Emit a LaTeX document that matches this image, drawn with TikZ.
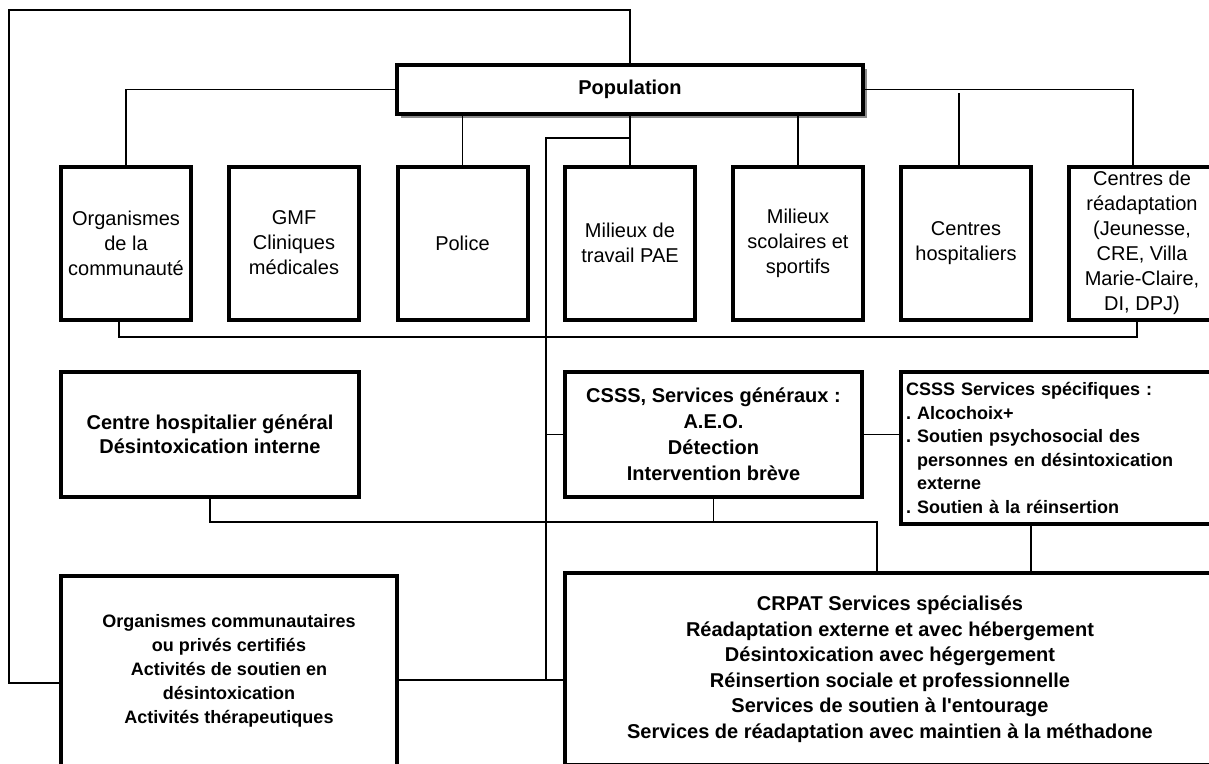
\documentclass[tikz,border=0pt]{standalone}
\usepackage{fontspec}
\setmainfont{Liberation Sans}
\usepackage{tikz}
\usetikzlibrary{positioning, shadows}
\frenchspacing

\begin{document}
\begin{tikzpicture}[
    x=1pt, y=-1pt,
    box/.style={draw, line width=4pt, align=center, inner sep=1pt},
    topbox/.style={box, minimum width=130pt, minimum height=153pt, font=\fontsize{20}{25}\selectfont},
    link/.style={line width=1.3pt}
]
    \useasboundingbox (0,0) rectangle (1209,763);

    \node[box, minimum width=466pt, minimum height=49pt, font=\fontsize{20}{25}\selectfont\bfseries,
          drop shadow={shadow xshift=4pt, shadow yshift=-4pt, fill=black!45, opacity=1}, fill=white] (pop) at (630,89.5) {Population};

    % Top row
    \node[topbox] (orgc) at (126,243) {Organismes\\de la\\communauté};
    \node[topbox] (gmf) at (294,243) {GMF\\Cliniques\\médicales};
    \node[topbox] (police) at (462.5,243) {Police};
    \node[topbox] (travail) at (630,243) {Milieux de\\travail PAE};
    \node[topbox] (scol) at (798,243) {Milieux\\scolaires et\\sportifs};
    \node[topbox] (hosp) at (966,243) {Centres\\hospitaliers};
    \node[topbox, minimum width=146pt] (readapt) at (1142,243) {Centres de\\réadaptation\\(Jeunesse,\\CRE, Villa\\Marie-Claire,\\DI, DPJ)};

    % Services
    \node[box, minimum width=298pt, minimum height=125pt, font=\fontsize{20}{24}\selectfont\bfseries] (chg) at (210,434.5) {Centre hospitalier général\\Désintoxication interne};
    \node[box, minimum width=297pt, minimum height=125pt, font=\fontsize{20}{26}\selectfont\bfseries] (csssg) at (713.5,434.5) {CSSS, Services généraux :\\A.E.O.\\Détection\\Intervention brève};
    \node[box, minimum width=314pt, minimum height=152pt, text width=304pt, align=left, inner sep=4pt,
          font=\fontsize{18}{23.5}\selectfont\bfseries] (cssss) at (1058,448) {CSSS Services spécifiques :\\. Alcochoix+\\. Soutien psychosocial des\\\phantom{. }personnes en désintoxication\\\phantom{. }externe\\. Soutien à la réinsertion};
    \node[box, minimum width=650pt, minimum height=192pt, font=\fontsize{20}{25.5}\selectfont\bfseries] (crpat) at (890,669) {CRPAT Services spécialisés\\Réadaptation externe et avec hébergement\\Désintoxication avec hégergement\\Réinsertion sociale et professionnelle\\Services de soutien à l\textquotesingle entourage\\Services de réadaptation avec maintien à la méthadone};
    \node[box, minimum width=336pt, minimum height=190pt, font=\fontsize{18}{24}\selectfont\bfseries] (orgcp) at (229,671) {Organismes communautaires\\ou privés certifiés\\Activités de soutien en\\désintoxication\\Activités thérapeutiques};

    % Routing points
    \coordinate (loop) at (9,10);
    \coordinate (spine) at (546,138);
    \coordinate (bus) at (546,680);
    \coordinate (rowL) at (119,337);
    \coordinate (rowR) at (1137,337);
    \coordinate (crpin) at (877,522);
    \coordinate (spdown) at (1031,573);

    % Connectors
    \draw[link] (pop.north) |- (loop) |- ([yshift=-12pt]orgcp.west);
    \draw[link] (pop.west) -| (orgc.north);
    \draw[link] (police.north) -- (police.north |- pop.south);
    \draw[link] (pop.south) -- (travail.north);
    \draw[link] (pop.south |- spine) -- (spine) -- (bus);
    \draw[link] (spine |- csssg.west) -- (csssg.west);
    \draw[link] (orgcp.east |- bus) -- (crpat.west |- bus);
    \draw[link] (scol.north) -- (scol.north |- pop.south);
    \draw[link] (pop.east) -| ([xshift=-9pt]readapt.north);
    \draw[link] ([xshift=-7pt]hosp.north) -- ([xshift=-7pt,yshift=-3pt]hosp.north |- pop.east);
    \draw[link] (rowL |- orgc.south) -- (rowL) -- (rowR) -- (rowR |- readapt.south);
    \draw[link] (chg.south) |- (crpin) -- (crpin |- crpat.north);
    \draw[link] (csssg.south) -- (csssg.south |- crpin);
    \draw[link] (csssg.east) -- (csssg.east -| cssss.west);
    \draw[link] (spdown |- cssss.south) -- (spdown);
\end{tikzpicture}
\end{document}
